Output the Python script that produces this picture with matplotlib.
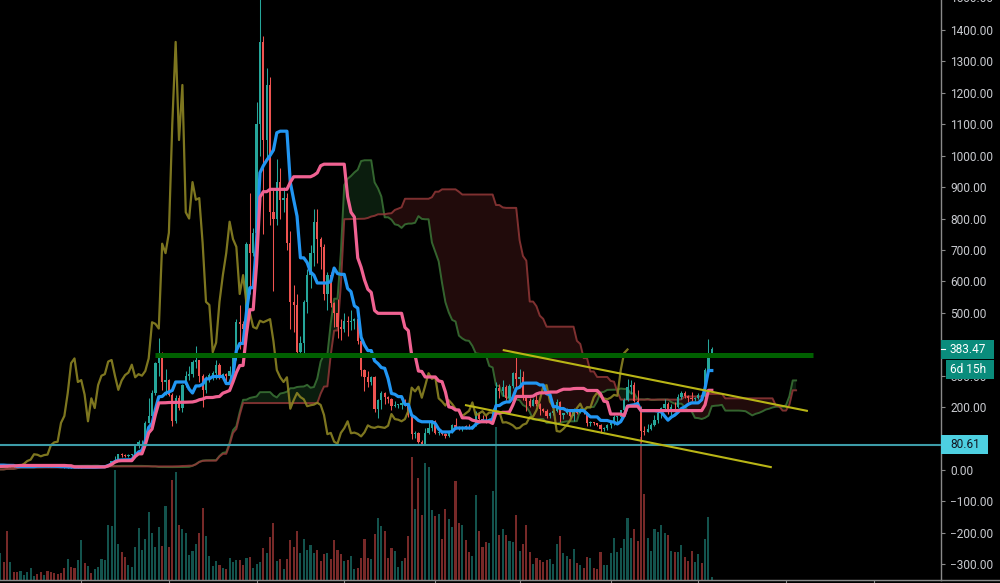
import numpy as np
import pandas as pd
import matplotlib
matplotlib.use("Agg")
import matplotlib.pyplot as plt
from matplotlib.patches import Rectangle
from matplotlib.lines import Line2D
from matplotlib.transforms import IdentityTransform

plt.rcParams['font.family'] = ['Roboto', 'DejaVu Sans']

# ---------------- data: weekly candles (bar index 0 = week of 2016-07-18) ----------------
first_index = -28          # first bar = week of 2016-01-04
first_open = 0.95
close = [0.98, 1.22, 1.6, 2.3, 2.5, 5.2, 4.4, 6.2, 9.8, 12.9, 11.0, 10.6, 11.4, 9.0, 8.4, 7.8, 8.8, 9.5,
         12.4, 13.8, 12.9, 13.8, 17.8, 20.6, 13.4, 12.2, 10.5, 11.8,
         12.6, 12.5, 10.8, 11.8, 11.2, 11.0, 12.0, 12.1, 12.5, 13.2, 13.3, 12.1, 11.9, 12.0, 11.3, 10.9,
         10.3, 9.7, 8.2, 7.6, 8.4, 7.8, 7.3, 8.1, 10.3, 9.8, 10.6, 10.5, 11.3, 11.4, 12.9, 13.3,
         19.5, 28.6, 33.0, 50.0, 48.5, 43.5, 47.5, 49.0, 79.0, 88.0, 90.0, 150, 172, 245, 340, 355,
         280, 286, 240, 155, 228, 197, 270, 300, 305, 345, 350, 300, 255, 285, 302, 310, 335, 295,
         305, 300, 315, 355, 470, 465, 450, 720, 690, 755,
         1100, 1362, 1050, 1225, 820, 800, 916, 860, 865, 722, 535, 525, 375, 405, 535, 620, 690, 790,
         735, 710, 560, 620, 530, 500, 455, 450, 475, 470, 475, 480, 410, 318, 295, 280, 295, 195,
         222, 245, 232, 225, 203, 206, 208, 214, 207, 175, 114, 118, 90, 84, 118, 133,
         155, 117, 119, 115, 107, 120, 142, 136, 134, 138, 136, 134, 141, 178, 162, 160, 155, 162,
         188, 262, 250, 265, 230, 268, 308, 290, 295, 228, 218, 205, 222, 210, 195, 188, 171, 180,
         188, 215, 174, 180, 187, 173, 183, 182, 187, 185, 151, 152, 148, 142, 132, 134,
         144, 148, 168, 170, 190, 223, 265, 270, 218, 200, 124, 122, 131, 143, 158, 181, 197, 211,
         187, 200, 199, 231, 246, 234, 228, 225, 230, 239, 236, 318, 372, 383.47]
high = [1.0, 1.3, 1.7, 2.6, 2.7, 6.0, 5.7, 6.5, 11.0, 15.0, 13.5, 11.5, 11.9, 11.4, 9.1, 8.5, 9.1, 10.2,
        12.8, 14.6, 14.0, 14.2, 18.5, 21.5, 21.0, 14.0, 12.5, 12.5,
        14.0, 13.2, 12.6, 12.4, 11.9, 11.6, 12.3, 12.4, 13.0, 13.6, 13.5, 13.4, 12.4, 12.2, 12.0, 11.4,
        11.0, 10.3, 9.8, 8.7, 8.6, 8.5, 7.9, 8.3, 11.3, 10.9, 11.0, 10.8, 11.5, 11.6, 13.0, 13.5,
        20.0, 29.8, 44.5, 52.0, 53.5, 52.0, 50.0, 51.0, 80.0, 97.0, 94.0, 155, 230, 255, 345, 420,
        375, 320, 290, 245, 240, 240, 275, 315, 330, 350, 395, 350, 305, 300, 310, 315, 350, 340,
        310, 310, 330, 360, 480, 525, 475, 725, 880, 770,
        1170, 1586, 1380, 1280, 1250, 890, 990, 960, 900, 880, 760, 590, 560, 425, 540, 640, 715, 830,
        830, 740, 720, 630, 630, 535, 545, 480, 500, 490, 510, 485, 480, 415, 320, 315, 300, 300,
        225, 250, 248, 235, 230, 218, 210, 218, 225, 214, 178, 124, 120, 96, 135, 155,
        160, 160, 130, 122, 118, 124, 145, 165, 140, 140, 142, 145, 143, 187, 186, 175, 175, 166,
        196, 280, 275, 285, 270, 275, 312, 366, 320, 315, 230, 228, 230, 238, 212, 198, 194, 184,
        190, 225, 218, 182, 198, 190, 198, 191, 197, 190, 186, 157, 153, 150, 145, 136,
        145, 150, 175, 172, 190, 228, 288, 285, 280, 253, 205, 140, 145, 149, 175, 188, 200, 227,
        217, 209, 215, 242, 252, 250, 240, 248, 232, 245, 241, 325, 417, 390]
low = [0.93, 0.95, 1.2, 1.5, 2.1, 2.5, 4.1, 4.5, 6.0, 9.0, 10.5, 10.0, 10.5, 8.5, 7.6, 7.4, 7.3, 8.5,
       9.4, 12.0, 12.2, 12.3, 13.5, 16.0, 10.0, 11.5, 9.5, 10.3,
       11.6, 11.9, 8.0, 10.5, 10.6, 10.7, 10.9, 11.6, 11.8, 12.4, 12.9, 11.9, 11.7, 11.7, 11.1, 10.5,
       10.1, 9.2, 8.0, 7.4, 5.9, 7.5, 7.0, 7.1, 7.9, 9.5, 9.8, 10.3, 10.4, 10.8, 11.4, 12.5,
       13.0, 17.9, 27.0, 31.5, 42.0, 41.0, 41.5, 46.0, 48.0, 69.0, 77.0, 86, 150, 155, 240, 300,
       255, 240, 235, 140, 150, 190, 185, 265, 285, 295, 325, 280, 200, 245, 280, 285, 290, 290,
       285, 280, 290, 305, 350, 385, 415, 450, 560, 680,
       740, 1000, 750, 990, 780, 570, 780, 800, 820, 700, 450, 440, 365, 360, 370, 500, 580, 650,
       660, 640, 540, 510, 520, 455, 420, 415, 440, 425, 445, 450, 400, 300, 250, 265, 270, 185,
       167, 195, 210, 214, 190, 199, 197, 195, 205, 168, 100, 101, 85, 82, 84, 115,
       125, 115, 112, 112, 102, 104, 118, 132, 128, 125, 130, 131, 130, 140, 155, 158, 148, 152,
       160, 186, 230, 235, 222, 225, 260, 265, 272, 222, 187, 200, 203, 205, 175, 184, 165, 167,
       175, 185, 153, 162, 178, 169, 156, 178, 180, 178, 140, 140, 142, 140, 118, 124,
       127, 135, 143, 152, 160, 185, 220, 243, 215, 198, 90, 110, 122, 126, 139, 150, 166, 190,
       178, 175, 195, 197, 227, 230, 216, 220, 219, 226, 230, 233, 310, 370]
# weekly volume for the visible bars 0..211 (arbitrary units)
volume = [27, 18, 49, 18, 8, 8, 9, 5, 8, 12, 4, 6, 8, 5, 9, 8, 7, 6, 7, 12,
          21, 13, 12, 20, 40, 17, 14, 7, 11, 13, 21, 20, 55, 54, 110, 36, 28, 23, 15, 13,
          33, 52, 30, 41, 68, 47, 33, 53, 34, 74, 33, 100, 108, 55, 51, 47, 25, 29, 36, 47,
          72, 44, 24, 14, 19, 15, 12, 11, 22, 18, 20, 20, 15, 22, 23, 12, 16, 18, 32, 27,
          43, 57, 19, 21, 11, 21, 40, 33, 49, 27, 41, 30, 35, 27, 30, 19, 26, 27, 21, 40,
          30, 26, 19, 20, 24, 11, 12, 22, 41, 22, 21, 46, 62, 54, 49, 22, 32, 29, 13, 19,
          22, 44, 123, 71, 102, 65, 117, 113, 70, 64, 66, 41, 71, 61, 53, 99, 57, 55, 40, 28,
          24, 85, 49, 33, 38, 37, 89, 153, 45,
          51, 45, 39, 38, 65, 29, 36, 55, 28, 16, 22, 20, 18, 20, 21, 16, 36, 44, 27, 24,
          21, 31, 17, 15, 12, 23, 22, 12, 11, 28, 15, 15, 27, 42, 28, 32, 41, 62, 42, 51,
          39, 143, 86, 42, 29, 51, 48, 55, 47, 45, 29, 28, 28, 35, 23, 19, 29, 18, 26, 17,
          41, 63, 3]

# Ichimoku settings (conversion, base, span B, displacement)
conv_len, base_len, spanb_len, displacement = 9, 26, 52, 26

# drawings
last_price = 383.47
countdown = "6d 15h"
low_marker = 80.61
resistance_level = 366
resistance_from, resistance_to = 46, 241
upper_trend_x = [149.0, 239.5]
upper_trend_y = [381.8, 187.7]
lower_trend_x = [137.8, 228.8]
lower_trend_y = [206.8, 8.6]
time_ticks = [24, 50, 76, 102, 129, 154, 181, 207, 233, 259]
price_ticks = list(range(-300, 1500, 100))

# ---------------- derived ----------------
c = np.array(close, float)
h = np.array(high, float)
l = np.array(low, float)
n = len(c)
idx = np.arange(first_index, first_index + n)
o = np.concatenate([[first_open], c[:-1]])
H = pd.Series(h)
L = pd.Series(l)


def donchian_mid(p):
    return ((H.rolling(p, min_periods=1).max() + L.rolling(p, min_periods=1).min()) / 2).values


tenkan = donchian_mid(conv_len)
kijun = donchian_mid(base_len)
span_a = (tenkan + kijun) / 2
span_b = donchian_mid(spanb_len)
off = displacement - 1

UP = '#26a69a'
DN = '#ef5350'
BG = '#000000'

fig = plt.figure(figsize=(10, 5.83), dpi=100, facecolor=BG)
rect = [0, 3 / 583, 0.941, 580 / 583]
xlim = (-0.089, 278.97)
ylim = (-350.0, 1495.4)

axv = fig.add_axes(rect)
axv.set_facecolor(BG)
ax = fig.add_axes(rect)
ax.patch.set_visible(False)

# volume
vis = idx >= 0
vi = idx[vis]
vup = (c >= o)[vis]
axv.bar(vi, volume, width=0.62, color=np.where(vup, UP, DN), alpha=0.5, linewidth=0)
axv.set_xlim(*xlim)
axv.set_ylim(0, 580)
axv.axis('off')

# cloud
xs = idx + off
ax.fill_between(xs, span_a, span_b, where=span_a >= span_b, interpolate=True,
                color='#0b1d0e', linewidth=0, zorder=1)
ax.fill_between(xs, span_a, span_b, where=span_a < span_b, interpolate=True,
                color='#210b0b', linewidth=0, zorder=1)
ax.plot(xs, span_a, color='#3b7536', lw=1.4, alpha=0.85, zorder=1.5)
ax.plot(xs, span_b, color='#933838', lw=1.4, alpha=0.85, zorder=1.5)

# candles
cols = np.where(c >= o, UP, DN)
ax.vlines(idx, l, h, colors=cols, linewidth=0.75, zorder=2)
body_lo = np.minimum(o, c)
body_h = np.maximum(np.abs(c - o), 2.5)
ax.bar(idx, body_h, bottom=body_lo, width=0.66, color=cols, linewidth=0, zorder=2)

# lagging span, conversion, base
ax.plot(idx - off, c, color='#8c8423', lw=1.6, alpha=0.9, zorder=3)
ax.plot(idx, tenkan, color='#2196f3', lw=2.3, zorder=3.2)
ax.plot(idx, kijun, color='#f06292', lw=2.3, zorder=3.3)

# drawings
ax.hlines(resistance_level, resistance_from, resistance_to, color='#006000', lw=3.6, zorder=4)
ax.axhline(low_marker, color='#3d9ca8', lw=1.5, zorder=4)
ax.plot(upper_trend_x, upper_trend_y, color='#b9b516', lw=1.5, zorder=5, solid_capstyle='butt')
ax.plot(lower_trend_x, lower_trend_y, color='#b9b516', lw=1.5, zorder=5, solid_capstyle='butt')

ax.set_xlim(*xlim)
ax.set_ylim(*ylim)

# axes styling
for s in ['top', 'left']:
    ax.spines[s].set_visible(False)
ax.spines['right'].set_color('#8a8a8a')
ax.spines['bottom'].set_color('#8a8a8a')
ax.spines['right'].set_linewidth(1.0)
ax.spines['bottom'].set_linewidth(1.0)
ax.yaxis.tick_right()
ax.set_yticks(price_ticks)


def price_fmt(v, p):
    # the label under the last-price box is fully covered in the original
    if abs(v - last_price) < 30:
        return ''
    return f"{v:.2f}".replace('-', '\u2212')


ax.yaxis.set_major_formatter(plt.FuncFormatter(price_fmt))
ax.tick_params(axis='y', colors='#8a8a8a', labelcolor='#c8cacf', labelsize=8.6, length=3, pad=3.6, width=0.8)
ax.set_xticks(time_ticks)
ax.set_xticklabels([])
ax.tick_params(axis='x', colors='#8a8a8a', length=3, width=0.8)

fig.add_artist(Line2D([0.941, 1.0], [3 / 583, 3 / 583], color='#8a8a8a', lw=1.0))

# right-hand labels
fig.canvas.draw()


def ydisp(v):
    return ax.transData.transform((0, v))[1]


yd = ydisp(1500)
fig.text(950, yd, '1500.00', transform=IdentityTransform(), color='#c8cacf', fontsize=8.6,
         va='center', ha='left')

yp = ydisp(last_price)
fig.add_artist(Rectangle((941, yp - 9.5), 53, 19, transform=IdentityTransform(),
                         facecolor='#0a8c7c', edgecolor='none', zorder=10))
fig.add_artist(Line2D([941, 945], [yp, yp], transform=IdentityTransform(), color='white', lw=0.8, zorder=11))
fig.text(950, yp, f"{last_price:.2f}", transform=IdentityTransform(), color='white', fontsize=8.6,
         va='center', ha='left', zorder=11)
fig.add_artist(Rectangle((946, yp - 29.5), 48, 19, transform=IdentityTransform(),
                         facecolor='#0a8c7c', edgecolor='none', zorder=10))
fig.text(950, yp - 20, countdown, transform=IdentityTransform(), color='white', fontsize=8.6,
         va='center', ha='left', zorder=11)

ym = ydisp(low_marker)
fig.add_artist(Rectangle((941, ym - 9.5), 47, 19, transform=IdentityTransform(),
                         facecolor='#4dd0e1', edgecolor='none', zorder=10))
fig.text(950, ym, f"{low_marker:.2f}", transform=IdentityTransform(), color='#131722', fontsize=8.6,
         va='center', ha='left', zorder=11)

fig.savefig('out.png', dpi=100, facecolor=BG)
